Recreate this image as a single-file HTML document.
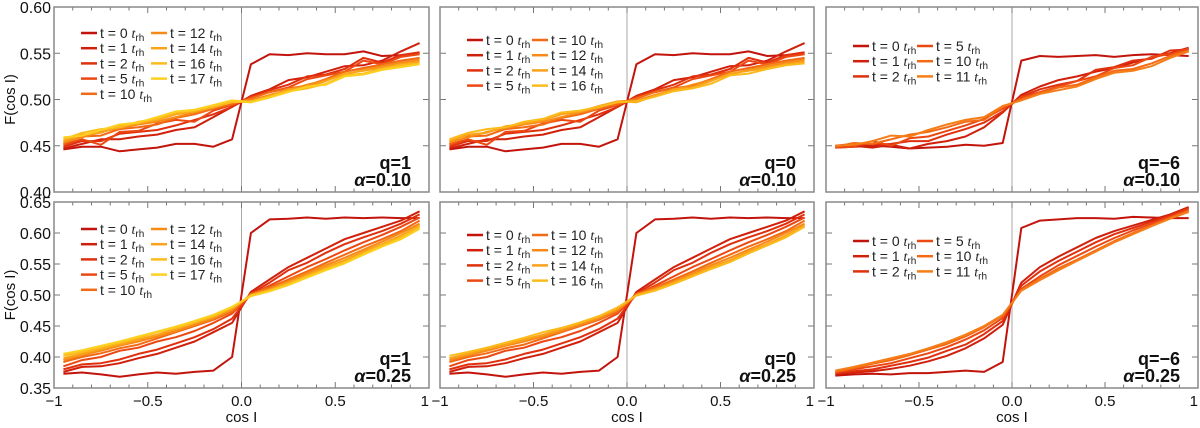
<!DOCTYPE html>
<html><head><meta charset="utf-8"><style>
body{margin:0;background:#fff;}
svg{display:block;font-family:"Liberation Sans",Arial,sans-serif;}
</style></head><body>
<svg id="c" width="1200" height="428"></svg>
<script>
const xs=[-0.95,-0.85,-0.75,-0.65,-0.55,-0.45,-0.35,-0.25,-0.15,-0.05,0.05,0.15,0.25,0.35,0.45,0.55,0.65,0.75,0.85,0.95];
// top row series (alpha=0.10)
const topT0=[0.446,0.449,0.449,0.444,0.446,0.448,0.452,0.452,0.449,0.457,0.538,0.549,0.548,0.550,0.549,0.549,0.552,0.547,0.548,0.550];
const topT1=[0.447,0.452,0.457,0.457,0.460,0.462,0.467,0.470,0.481,0.492,0.504,0.511,0.521,0.524,0.530,0.536,0.537,0.542,0.552,0.561];
const topT2=[0.449,0.455,0.455,0.463,0.465,0.467,0.472,0.478,0.484,0.492,0.503,0.510,0.516,0.525,0.527,0.533,0.545,0.540,0.548,0.551];
const topT5=[0.451,0.457,0.451,0.465,0.466,0.474,0.478,0.476,0.488,0.494,0.502,0.508,0.513,0.522,0.526,0.530,0.542,0.538,0.546,0.549];
const topT10=[0.452,0.460,0.461,0.468,0.470,0.473,0.480,0.484,0.490,0.495,0.501,0.508,0.512,0.515,0.522,0.530,0.534,0.538,0.542,0.545];
const topT12=[0.454,0.459,0.465,0.469,0.473,0.476,0.481,0.486,0.491,0.498,0.499,0.505,0.510,0.516,0.521,0.527,0.532,0.536,0.540,0.543];
const topT14=[0.455,0.462,0.464,0.471,0.474,0.478,0.484,0.487,0.493,0.498,0.497,0.504,0.511,0.513,0.520,0.528,0.531,0.534,0.538,0.541];
const topT16=[0.457,0.464,0.468,0.470,0.476,0.479,0.486,0.488,0.492,0.497,0.498,0.503,0.509,0.512,0.517,0.526,0.528,0.533,0.537,0.539];
const topT17=[0.459,0.461,0.467,0.473,0.475,0.481,0.487,0.489,0.494,0.499,0.497,0.502,0.508,0.514,0.516,0.525,0.527,0.532,0.535,0.538];
// q=-6 top
const m6T0=[0.448,0.449,0.450,0.449,0.447,0.448,0.449,0.451,0.450,0.453,0.542,0.547,0.546,0.547,0.548,0.546,0.548,0.549,0.548,0.547];
const m6T1=[0.449,0.450,0.448,0.451,0.447,0.452,0.455,0.460,0.470,0.486,0.505,0.514,0.521,0.525,0.530,0.534,0.540,0.545,0.550,0.556];
const m6T2=[0.450,0.452,0.451,0.452,0.455,0.455,0.462,0.468,0.475,0.487,0.503,0.511,0.516,0.520,0.532,0.535,0.542,0.544,0.553,0.554];
const m6T5=[0.448,0.449,0.455,0.450,0.458,0.460,0.466,0.472,0.479,0.490,0.502,0.508,0.514,0.520,0.525,0.534,0.537,0.546,0.549,0.555];
const m6T10=[0.449,0.453,0.452,0.457,0.462,0.465,0.470,0.476,0.478,0.492,0.500,0.507,0.513,0.516,0.524,0.531,0.533,0.539,0.547,0.553];
const m6T11=[0.450,0.451,0.455,0.461,0.460,0.467,0.473,0.478,0.481,0.493,0.499,0.506,0.510,0.514,0.522,0.529,0.531,0.536,0.545,0.552];
// bottom row series (alpha=0.25)
const botT0=[0.373,0.375,0.372,0.368,0.372,0.375,0.373,0.376,0.378,0.400,0.600,0.622,0.623,0.625,0.623,0.625,0.624,0.625,0.624,0.624];
const botT1=[0.376,0.384,0.385,0.390,0.398,0.405,0.415,0.425,0.440,0.455,0.505,0.525,0.545,0.560,0.575,0.590,0.600,0.610,0.620,0.635];
const botT2=[0.380,0.388,0.390,0.396,0.405,0.412,0.422,0.432,0.445,0.462,0.502,0.520,0.540,0.552,0.568,0.582,0.593,0.603,0.615,0.630];
const botT5=[0.385,0.395,0.400,0.410,0.415,0.425,0.432,0.442,0.455,0.470,0.500,0.515,0.530,0.545,0.558,0.572,0.585,0.597,0.610,0.625];
const botT10=[0.392,0.400,0.406,0.414,0.420,0.430,0.440,0.450,0.460,0.473,0.502,0.512,0.525,0.538,0.552,0.565,0.578,0.590,0.603,0.620];
const botT12=[0.395,0.403,0.410,0.418,0.425,0.433,0.442,0.452,0.462,0.476,0.500,0.510,0.522,0.535,0.548,0.560,0.573,0.586,0.600,0.615];
const botT14=[0.398,0.405,0.413,0.420,0.428,0.436,0.445,0.455,0.465,0.478,0.500,0.508,0.520,0.532,0.545,0.556,0.570,0.582,0.596,0.612];
const botT16=[0.402,0.408,0.415,0.423,0.431,0.440,0.447,0.456,0.466,0.480,0.499,0.507,0.518,0.530,0.542,0.553,0.567,0.580,0.593,0.610];
const botT17=[0.405,0.411,0.418,0.425,0.433,0.441,0.449,0.458,0.468,0.481,0.498,0.506,0.516,0.528,0.540,0.551,0.565,0.578,0.590,0.607];
const m6B0=[0.370,0.372,0.373,0.372,0.374,0.374,0.376,0.378,0.376,0.392,0.608,0.620,0.622,0.624,0.624,0.623,0.626,0.625,0.624,0.624];
const m6B1=[0.372,0.375,0.377,0.381,0.386,0.393,0.402,0.414,0.430,0.452,0.520,0.545,0.562,0.577,0.592,0.603,0.612,0.621,0.630,0.642];
const m6B2=[0.374,0.377,0.380,0.386,0.392,0.399,0.410,0.420,0.437,0.458,0.515,0.538,0.555,0.570,0.585,0.598,0.608,0.618,0.628,0.640];
const m6B5=[0.375,0.380,0.385,0.390,0.398,0.406,0.416,0.428,0.443,0.463,0.510,0.530,0.548,0.563,0.578,0.592,0.604,0.615,0.626,0.638];
const m6B10=[0.376,0.382,0.389,0.395,0.403,0.412,0.421,0.433,0.448,0.467,0.508,0.526,0.543,0.557,0.572,0.587,0.600,0.612,0.624,0.636];
const m6B11=[0.378,0.384,0.391,0.398,0.405,0.414,0.424,0.436,0.450,0.468,0.507,0.524,0.540,0.555,0.570,0.585,0.598,0.611,0.623,0.634];
const cols={0:'#c2140c',1:'#d0200c',2:'#e0300e',5:'#ec4812',10:'#f36a14',11:'#f57e18',12:'#f78a18',14:'#faa21a',16:'#fcbb1c',17:'#fdd020'};
const yTop=['0.40','0.45','0.50','0.55','0.60'], yBot=['0.35','0.40','0.45','0.50','0.55','0.60','0.65'];
const xTicks=['−1','−0.5','0.0','0.5','1'];
const panels=[
 {x0:54,x1:429,y0:7,y1:192,ymin:0.40,ymax:0.60,q:'1',a:'0.10',ser:[[0,topT0],[1,topT1],[2,topT2],[5,topT5],[10,topT10],[12,topT12],[14,topT14],[16,topT16],[17,topT17]],lg:[81,33,151,5]},
 {x0:440,x1:814,y0:7,y1:192,ymin:0.40,ymax:0.60,q:'0',a:'0.10',ser:[[0,topT0],[1,topT1],[2,topT2],[5,topT5],[10,topT10],[12,topT12],[14,topT14],[16,topT16]],lg:[467,40,532,4]},
 {x0:826,x1:1198,y0:7,y1:192,ymin:0.40,ymax:0.60,q:'−6',a:'0.10',ser:[[0,m6T0],[1,m6T1],[2,m6T2],[5,m6T5],[10,m6T10],[11,m6T11]],lg:[853,46,917,3]},
 {x0:54,x1:429,y0:202,y1:388,ymin:0.35,ymax:0.65,q:'1',a:'0.25',ser:[[0,botT0],[1,botT1],[2,botT2],[5,botT5],[10,botT10],[12,botT12],[14,botT14],[16,botT16],[17,botT17]],lg:[81,229,151,5]},
 {x0:440,x1:814,y0:202,y1:388,ymin:0.35,ymax:0.65,q:'0',a:'0.25',ser:[[0,botT0],[1,botT1],[2,botT2],[5,botT5],[10,botT10],[12,botT12],[14,botT14],[16,botT16]],lg:[467,235,532,4]},
 {x0:826,x1:1198,y0:202,y1:388,ymin:0.35,ymax:0.65,q:'−6',a:'0.25',ser:[[0,m6B0],[1,m6B1],[2,m6B2],[5,m6B5],[10,m6B10],[11,m6B11]],lg:[853,241,917,3]}
];
const svg=document.getElementById('c');const NS='http://www.w3.org/2000/svg';
function mk(t,a,p){const e=document.createElementNS(NS,t);for(const k in a)e.setAttribute(k,a[k]);(p||svg).appendChild(e);return e;}
panels.forEach((P,pi)=>{
 const g=mk('g',{});
 
 
 const sx=v=>P.x0+(v+1)/2*(P.x1-P.x0);
 const sy=v=>P.y1-(v-P.ymin)/(P.ymax-P.ymin)*(P.y1-P.y0);
 mk('line',{x1:sx(0),x2:sx(0),y1:P.y0,y2:P.y1,stroke:'#aaa','stroke-width':1},g);
 for(let i=0;i<=20;i++){const v=-1+i*0.1;const L=(i%5==0)?6:3.5;
  mk('line',{x1:sx(v),x2:sx(v),y1:P.y1,y2:P.y1-L,stroke:'#777','stroke-width':1},g);
  mk('line',{x1:sx(v),x2:sx(v),y1:P.y0,y2:P.y0+L,stroke:'#777','stroke-width':1},g);}
 const nT=Math.round((P.ymax-P.ymin)/0.05);
 for(let i=0;i<=nT;i++){const v=P.ymin+i*0.05;
  mk('line',{x1:P.x0,x2:P.x0+6,y1:sy(v),y2:sy(v),stroke:'#777','stroke-width':1},g);
  mk('line',{x1:P.x1,x2:P.x1-6,y1:sy(v),y2:sy(v),stroke:'#777','stroke-width':1},g);}
 P.ser.forEach(([t,arr])=>{
  const pl=mk('polyline',{points:arr.map((v,i)=>sx(xs[i]).toFixed(1)+','+sy(v).toFixed(1)).join(' '),fill:'none',stroke:cols[t],'stroke-width':2,'stroke-linejoin':'round'},g);
  
  
 });
 mk('rect',{x:P.x0,y:P.y0,width:P.x1-P.x0,height:P.y1-P.y0,fill:'none',stroke:'#888','stroke-width':1.5},g);
 const [lx,ly,lx2,nr]=P.lg;
 P.ser.forEach(([t],i)=>{const c=Math.floor(i/nr),r=i%nr;const x=c?lx2:lx,y=ly+r*15.2;
  const le=mk('g',{},g);
  
  
  mk('line',{x1:x,x2:x+16,y1:y,y2:y,stroke:cols[t],'stroke-width':2.5},le);
  const tx=mk('text',{x:x+19,y:y+5,'font-size':14,fill:'#222'},le);
  tx.innerHTML='t = '+t+' <tspan font-style="italic" font-family="Liberation Serif">t</tspan><tspan font-size="10" dy="3">rh</tspan>';
 });
 const q=mk('text',{x:P.x1-18,y:P.y1-23,'font-size':18,'font-weight':'bold','text-anchor':'end',fill:'#111'},g);q.textContent='q='+P.q;
 
 
 const a=mk('text',{x:P.x1-18,y:P.y1-6,'font-size':18,'font-weight':'bold','text-anchor':'end',fill:'#111'},g);
 a.innerHTML='<tspan font-style="italic">α</tspan>='+P.a;
 
 
 if(pi%3==0){const labs=pi==0?yTop:yBot;labs.forEach((s,i)=>{const v=P.ymin+i*0.05;
  const t=mk('text',{x:P.x0-3,y:sy(v)+6,'font-size':16,'text-anchor':'end',fill:'#111'},g);t.textContent=s;
  
  });
  const yl=mk('text',{x:0,y:0,'font-size':15,'text-anchor':'middle',fill:'#111',transform:`translate(15,${(P.y0+P.y1)/2}) rotate(-90)`},g);yl.textContent='F(cos I)';
  
  }
 if(pi>=3){xTicks.forEach((s,i)=>{const v=-1+i*0.5;
  const t=mk('text',{x:sx(v),y:P.y1+18,'font-size':15,'text-anchor':i==4?'end':'middle',fill:'#111'},g);t.textContent=s;
  
  });
  const xl=mk('text',{x:sx(0),y:422,'font-size':15,'text-anchor':'middle',fill:'#111'},g);xl.textContent='cos I';
  
  }
});
</script>
</body></html>
